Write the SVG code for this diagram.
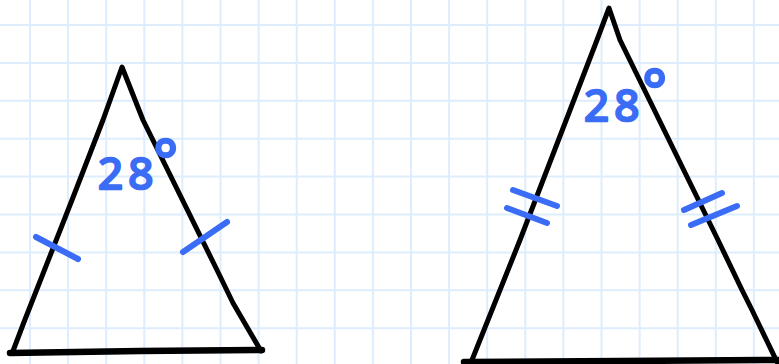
<svg xmlns="http://www.w3.org/2000/svg" width="779" height="364" viewBox="0 0 779 364">
<style>
.grid line{stroke:#deedfd;stroke-width:2}
.edge{fill:none;stroke:#000;stroke-width:5;stroke-linecap:round;stroke-linejoin:round}
.base{fill:none;stroke:#000;stroke-width:6.5;stroke-linecap:round}
.tick{fill:none;stroke:#3a6cf6;stroke-width:6;stroke-linecap:round}
.lbl{font-family:"Noto Sans",sans-serif;font-size:44px;fill:#3a6cf6;stroke:#3a6cf6;stroke-width:2.5;stroke-linejoin:round}
.deg{font-size:58px;stroke-width:2.5}
</style>
<rect width="779" height="364" fill="#fff"/>
<g class="grid">
<line x1="30" y1="0" x2="30" y2="364"/><line x1="68.1" y1="0" x2="68.1" y2="364"/><line x1="106.2" y1="0" x2="106.2" y2="364"/><line x1="144.3" y1="0" x2="144.3" y2="364"/><line x1="182.4" y1="0" x2="182.4" y2="364"/><line x1="220.5" y1="0" x2="220.5" y2="364"/><line x1="258.6" y1="0" x2="258.6" y2="364"/><line x1="296.7" y1="0" x2="296.7" y2="364"/><line x1="334.8" y1="0" x2="334.8" y2="364"/><line x1="372.9" y1="0" x2="372.9" y2="364"/><line x1="411" y1="0" x2="411" y2="364"/><line x1="449.1" y1="0" x2="449.1" y2="364"/><line x1="487.2" y1="0" x2="487.2" y2="364"/><line x1="525.3" y1="0" x2="525.3" y2="364"/><line x1="563.4" y1="0" x2="563.4" y2="364"/><line x1="601.5" y1="0" x2="601.5" y2="364"/><line x1="639.6" y1="0" x2="639.6" y2="364"/><line x1="677.7" y1="0" x2="677.7" y2="364"/><line x1="715.8" y1="0" x2="715.8" y2="364"/><line x1="753.9" y1="0" x2="753.9" y2="364"/>
<line x1="0" y1="25" x2="779" y2="25"/><line x1="0" y1="62.9" x2="779" y2="62.9"/><line x1="0" y1="100.8" x2="779" y2="100.8"/><line x1="0" y1="138.7" x2="779" y2="138.7"/><line x1="0" y1="176.6" x2="779" y2="176.6"/><line x1="0" y1="214.5" x2="779" y2="214.5"/><line x1="0" y1="252.4" x2="779" y2="252.4"/><line x1="0" y1="290.3" x2="779" y2="290.3"/><line x1="0" y1="328.2" x2="779" y2="328.2"/>
</g>
<g id="triangle-left">
<path class="edge" d="M13,351 L24,322 L72,200 L103,120 L122,67 L143,120 L217,270 L233,303 L261,351"/>
<path class="base" d="M10,353 L140,351 L262,350"/>
<line class="tick" x1="36" y1="237" x2="78" y2="259"/>
<line class="tick" x1="183" y1="252" x2="227" y2="222"/>
<text class="lbl" x="98" y="189">2<tspan dx="5">8</tspan><tspan class="deg" dy="-8">°</tspan></text>
</g>
<g id="triangle-right">
<path class="edge" d="M472,360 L520,240 L597,40 L609,8 L620,40 L718,240 L742,290 L752,310 L779,366"/>
<path class="base" d="M464,362 L620,361 L780,360"/>
<line class="tick" x1="513" y1="190" x2="557" y2="206"/>
<line class="tick" x1="507" y1="208" x2="547" y2="223"/>
<line class="tick" x1="684" y1="210" x2="722" y2="193"/>
<line class="tick" x1="691" y1="225" x2="737" y2="206"/>
<text class="lbl" x="584" y="121">2<tspan dx="5">8</tspan><tspan class="deg" dx="3" dy="-10">°</tspan></text>
</g>
</svg>
